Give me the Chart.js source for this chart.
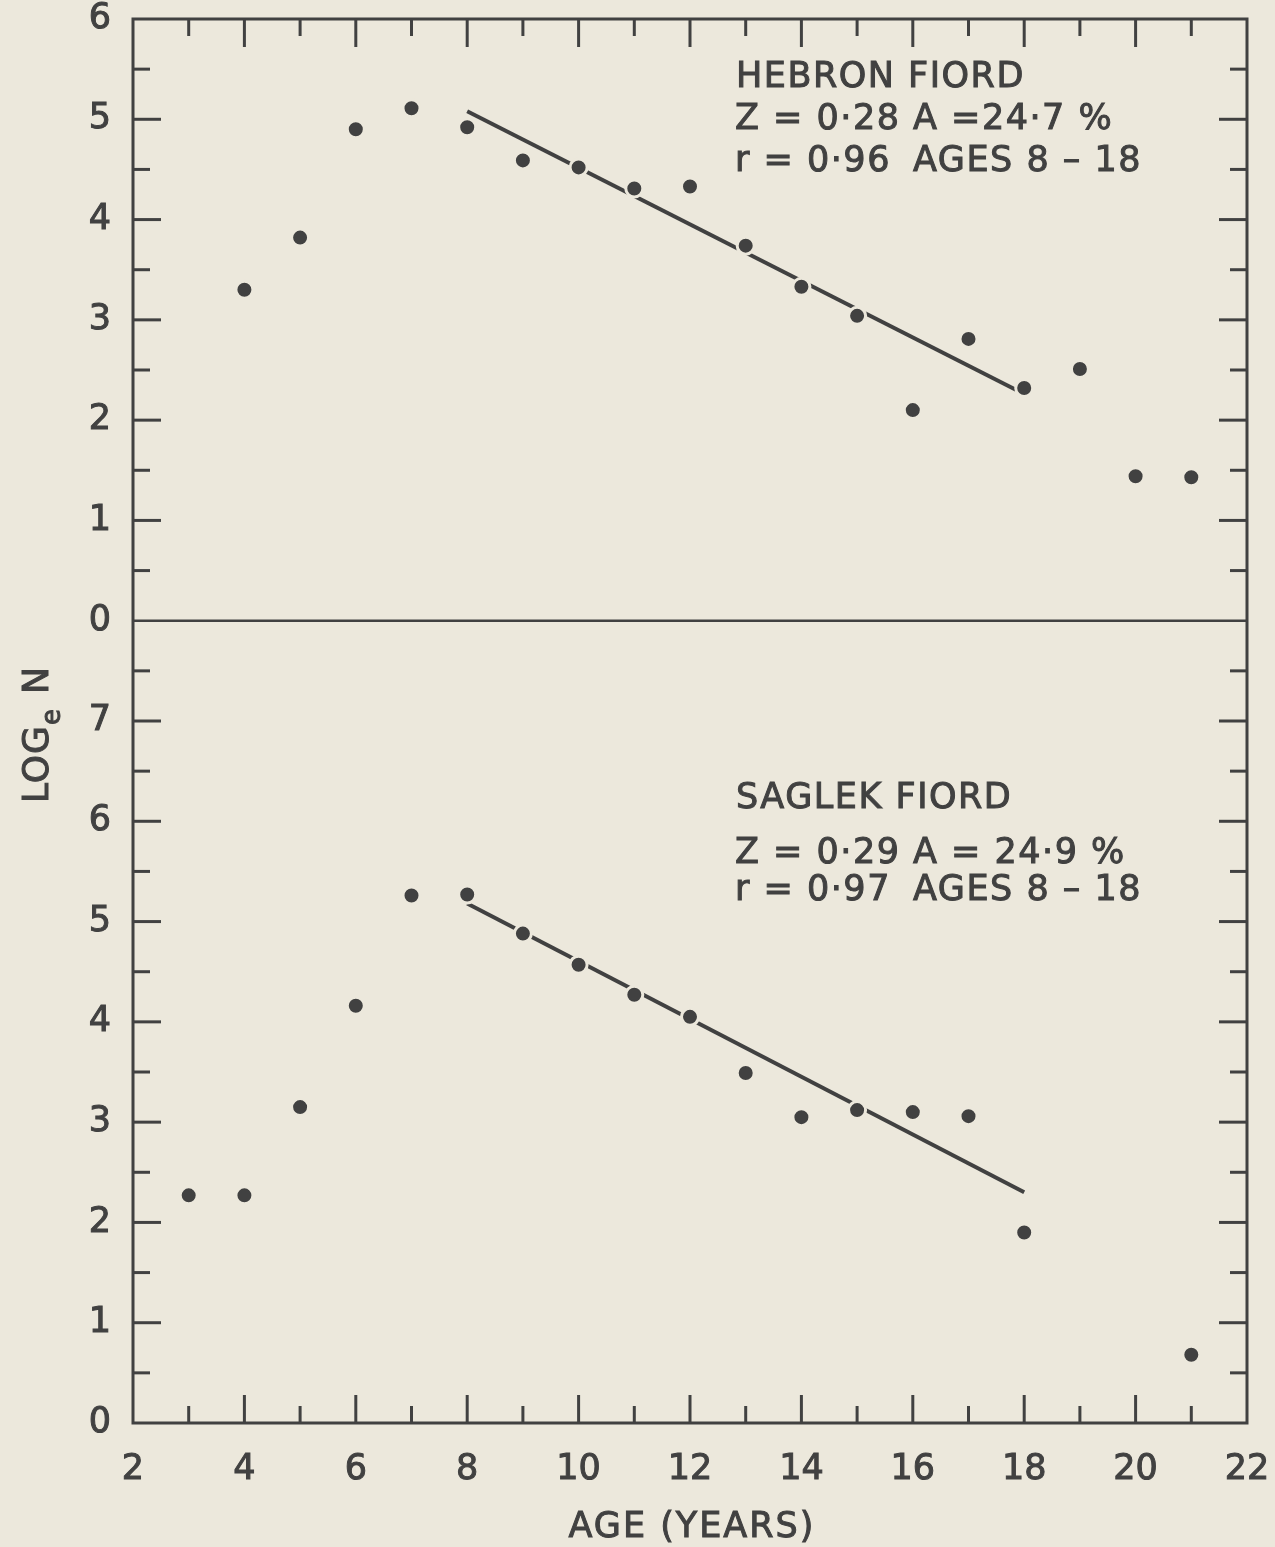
<!DOCTYPE html>
<html>
<head>
<meta charset="utf-8">
<script src="https://cdn.jsdelivr.net/npm/chart.js@4.4.1/dist/chart.umd.min.js"></script>
<style>
  html, body { margin:0; padding:0; background:#ece8dc; }
  #wrap { width:1275px; height:1547px; }
</style>
</head>
<body>
<div id="wrap"><canvas id="chart" width="1275" height="1547"></canvas></div>
<script>
const INK   = '#414141';
const PAPER = '#ece8dc';
const FONT  = '"DejaVu Sans", sans-serif';

// Hebron Fiord - log_e N against age
const hebronAges = [4, 5, 6, 7, 8, 9, 10, 11, 12, 13, 14, 15, 16, 17, 18, 19, 20, 21];
const hebronLogN = [3.30, 3.82, 4.90, 5.11, 4.92, 4.59, 4.52, 4.31, 4.33, 3.74, 3.33, 3.04, 2.10, 2.81, 2.32, 2.51, 1.44, 1.43];
const hebronFitAges = [8, 18];
const hebronFitLogN = [5.08, 2.26];

// Saglek Fiord - log_e N against age
const saglekAges = [3, 4, 5, 6, 7, 8, 9, 10, 11, 12, 13, 14, 15, 16, 17, 18, 21];
const saglekLogN = [2.27, 2.27, 3.15, 4.16, 5.26, 5.27, 4.88, 4.57, 4.27, 4.05, 3.49, 3.05, 3.12, 3.10, 3.06, 1.90, 0.68];
const saglekFitAges = [8, 18];
const saglekFitLogN = [5.18, 2.30];

const xTickValues = [2, 4, 6, 8, 10, 12, 14, 16, 18, 20, 22];
const topTickValues = [0, 1, 2, 3, 4, 5, 6];
const bottomTickValues = [0, 1, 2, 3, 4, 5, 6, 7];

const hebronLabel = ['HEBRON FIORD', 'Z = 0·28', 'A =24·7 %', 'r = 0·96', 'AGES 8 – 18'];
const saglekLabel = ['SAGLEK FIORD', 'Z = 0·29', 'A = 24·9 %', 'r = 0·97', 'AGES 8 – 18'];

function pairs(xs, ys) {
  return xs.map(function(x, i) { return { x: x, y: ys[i] }; });
}

function line(ctx, x1, y1, x2, y2) {
  ctx.beginPath(); ctx.moveTo(x1, y1); ctx.lineTo(x2, y2); ctx.stroke();
}

// lettering drawn with a thin outline so the strokes look like pen lettering
function letter(ctx, txt, x, y) {
  ctx.fillText(txt, x, y);
  ctx.strokeText(txt, x, y);
}

// no label overflow padding; the frame position is set by layout.padding
function noOverflow(s) {
  s.paddingTop = 0; s.paddingBottom = 0; s.paddingLeft = 0; s.paddingRight = 0;
}

// frame, inward ticks, divider, panel notes and axis titles
const framePlugin = {
  id: 'frame',
  beforeDraw(chart) {
    const ctx = chart.ctx;
    ctx.save();
    ctx.fillStyle = PAPER;
    ctx.fillRect(0, 0, chart.width, chart.height);
    ctx.restore();
  },
  afterDraw(chart) {
    const ctx = chart.ctx, a = chart.chartArea;
    const x = chart.scales.x, yt = chart.scales.yTop, yb = chart.scales.yBot;
    ctx.save();
    ctx.strokeStyle = INK;
    ctx.lineWidth = 3;
    ctx.strokeRect(a.left, a.top, a.right - a.left, a.bottom - a.top);

    ctx.lineWidth = 2.5;
    const mid = yt.getPixelForValue(0);
    line(ctx, a.left, mid, a.right, mid);

    ctx.lineWidth = 3;
    for (let v = 3; v < 22; v++) {
      const px = x.getPixelForValue(v);
      const len = v % 2 === 0 ? 28 : 17;
      line(ctx, px, a.top, px, a.top + len);
      line(ctx, px, a.bottom, px, a.bottom - len);
    }
    [[yt, 6], [yb, 8]].forEach(function(p) {
      const s = p[0];
      for (let v = 0.5; v < p[1]; v += 0.5) {
        const py = s.getPixelForValue(v);
        const len = Number.isInteger(v) ? 28 : 17;
        line(ctx, a.left, py, a.left + len, py);
        line(ctx, a.right, py, a.right - len, py);
      }
    });

    // panel notes
    ctx.fillStyle = INK;
    ctx.lineWidth = 1;
    ctx.font = '35px ' + FONT;
    ctx.letterSpacing = '1.5px';
    ctx.textBaseline = 'middle';
    ctx.textAlign = 'left';
    function note(lbl, y1, y2, y3) {
      letter(ctx, lbl[0], 736, y1);
      letter(ctx, lbl[1], 735, y2);
      letter(ctx, lbl[2], 913, y2);
      letter(ctx, lbl[3], 735, y3);
      letter(ctx, lbl[4], 913, y3);
    }
    note(hebronLabel, 78, 120, 162);
    note(saglekLabel, 799, 854, 891);

    // x title
    ctx.letterSpacing = '2px';
    ctx.textAlign = 'center';
    letter(ctx, 'AGE (YEARS)', 692, 1528);

    // y title with subscript
    ctx.save();
    ctx.letterSpacing = '1px';
    ctx.translate(48, 803);
    ctx.rotate(-Math.PI / 2);
    ctx.textAlign = 'left';
    ctx.textBaseline = 'alphabetic';
    ctx.font = '36px ' + FONT;
    letter(ctx, 'LOG', 0, 0);
    let w = ctx.measureText('LOG').width;
    ctx.font = '26px ' + FONT;
    letter(ctx, 'e', w, 12);
    w += ctx.measureText('e').width + 14;
    ctx.font = '36px ' + FONT;
    letter(ctx, 'N', w, 0);
    ctx.restore();

    ctx.restore();
  }
};

const tickFont = { family: FONT, size: 35 };
const tickStyle = { font: tickFont, color: INK, textStrokeColor: INK, textStrokeWidth: 1 };

// dots carry a paper-coloured rim, which breaks the fitted line where it passes through them
const dotStyle = { pointRadius: 8.5, pointBackgroundColor: INK, pointBorderColor: PAPER, pointBorderWidth: 3 };
const fitStyle = { showLine: true, pointRadius: 0, borderColor: INK, borderWidth: 4 };

new Chart(document.getElementById('chart'), {
  type: 'scatter',
  data: {
    datasets: [
      Object.assign({ data: pairs(hebronAges, hebronLogN), yAxisID: 'yTop' }, dotStyle),
      Object.assign({ data: pairs(hebronFitAges, hebronFitLogN), yAxisID: 'yTop' }, fitStyle),
      Object.assign({ data: pairs(saglekAges, saglekLogN), yAxisID: 'yBot' }, dotStyle),
      Object.assign({ data: pairs(saglekFitAges, saglekFitLogN), yAxisID: 'yBot' }, fitStyle)
    ]
  },
  options: {
    responsive: false,
    devicePixelRatio: 1,
    animation: false,
    layout: { padding: { left: 0, top: 19, right: 28, bottom: 0 } },
    plugins: { legend: { display: false }, tooltip: { enabled: false } },
    scales: {
      x: {
        type: 'linear', position: 'bottom', min: 2, max: 22,
        afterBuildTicks: function(s) { s.ticks = xTickValues.map(function(v) { return { value: v }; }); },
        ticks: Object.assign({ padding: 26, maxRotation: 0 }, tickStyle),
        grid: { display: false, drawTicks: false },
        border: { display: false },
        afterFit: function(s) { s.height = 124; noOverflow(s); }
      },
      yTop: {
        type: 'linear', position: 'left', stack: 'panels', stackWeight: 6, weight: 1,
        min: 0, max: 6,
        afterBuildTicks: function(s) { s.ticks = topTickValues.map(function(v) { return { value: v }; }); },
        ticks: Object.assign({ padding: 22 }, tickStyle),
        grid: { display: false, drawTicks: false },
        border: { display: false },
        afterFit: function(s) { s.width = 133; noOverflow(s); }
      },
      yBot: {
        type: 'linear', position: 'left', stack: 'panels', stackWeight: 8, weight: 0,
        min: 0, max: 8,
        afterBuildTicks: function(s) { s.ticks = bottomTickValues.map(function(v) { return { value: v }; }); },
        ticks: Object.assign({ padding: 22 }, tickStyle),
        grid: { display: false, drawTicks: false },
        border: { display: false },
        afterFit: function(s) { s.width = 133; noOverflow(s); }
      }
    }
  },
  plugins: [framePlugin]
});
</script>
</body>
</html>
